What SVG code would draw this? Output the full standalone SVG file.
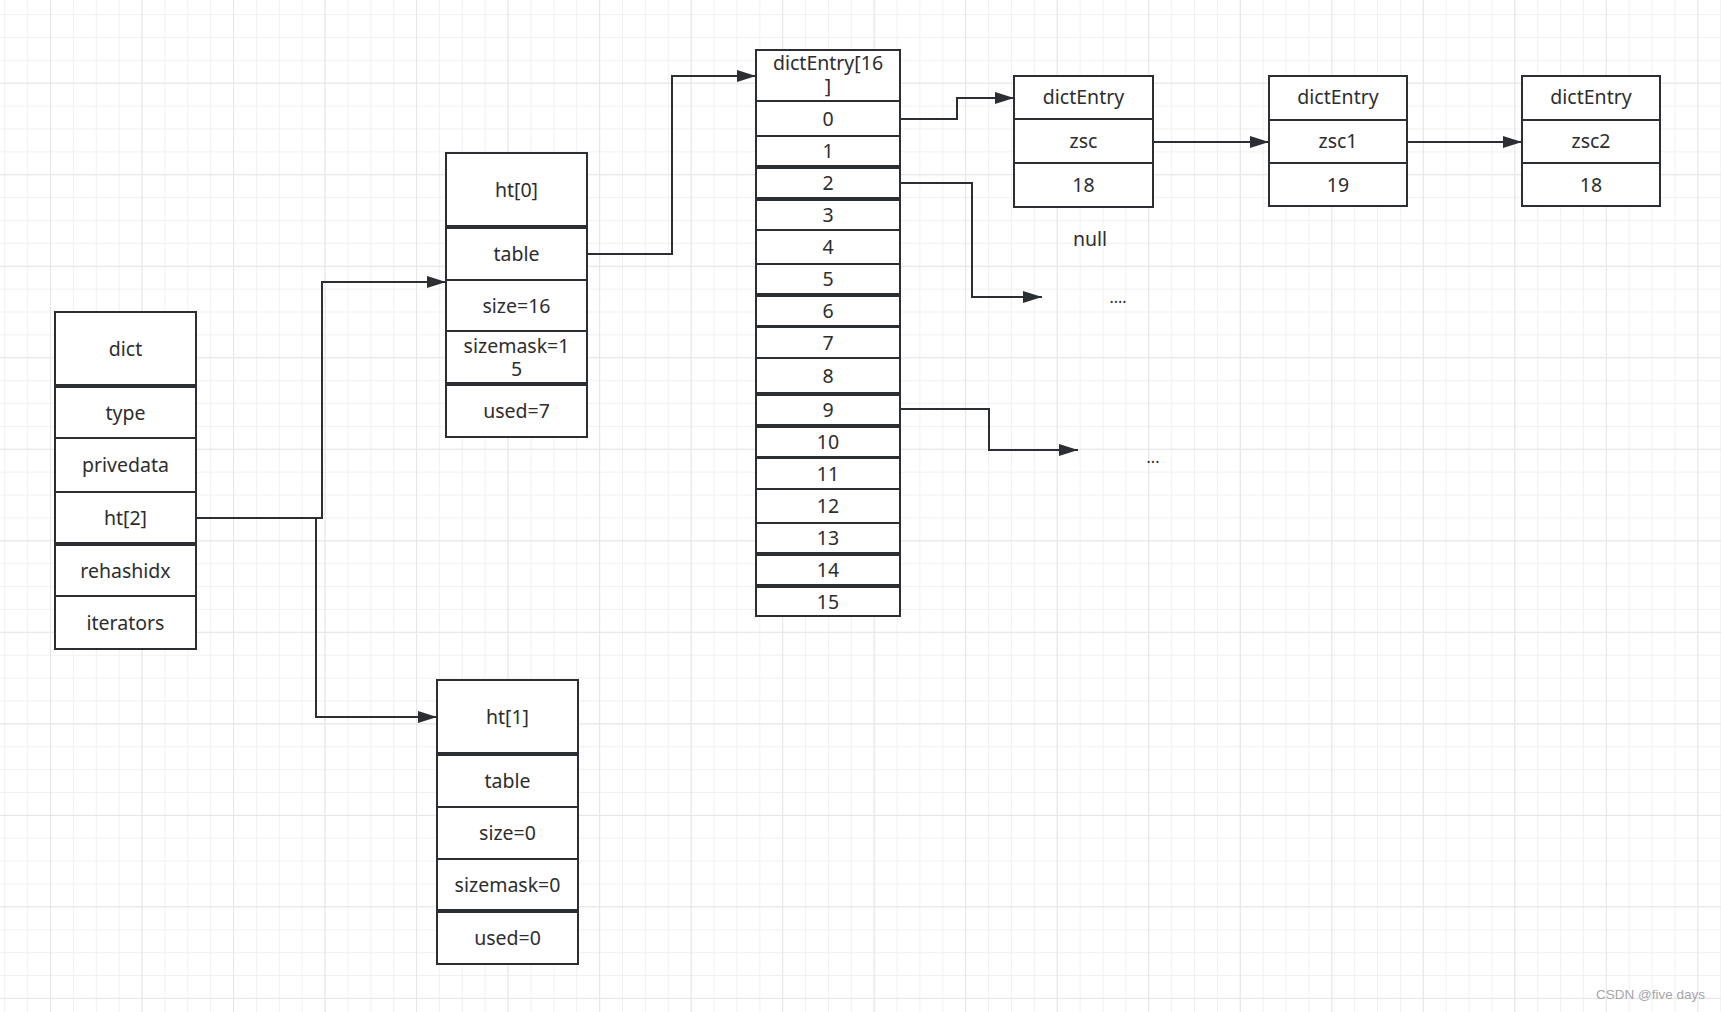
<svg xmlns="http://www.w3.org/2000/svg" width="1721" height="1012" viewBox="0 0 1721 1012">
<defs>
<pattern id="gMinor" patternUnits="userSpaceOnUse" x="50" y="82.7" width="22.88" height="22.88">
<path d="M22.88 0H0V22.88" fill="none" stroke="#f1f1f1" stroke-width="2"/>
</pattern>
<pattern id="gMajor" patternUnits="userSpaceOnUse" x="50" y="82.7" width="91.52" height="91.52">
<path d="M91.52 0H0V91.52" fill="none" stroke="#e6e6e6" stroke-width="2"/>
</pattern>
<marker id="arr" markerUnits="userSpaceOnUse" markerWidth="20" markerHeight="12" refX="19" refY="6" orient="auto">
<path d="M0,0 L19,6 L0,12 Z" fill="#2b2f33"/>
</marker>
<style>
.c{fill:#fff;stroke:#2b2f33;stroke-width:2}
.t{font-family:"Noto Sans","Open Sans","Liberation Sans",sans-serif;font-size:19.5px;fill:#2d2d2d;text-anchor:middle}
.l{fill:none;stroke:#2b2f33;stroke-width:2;marker-end:url(#arr)}
</style>
</defs>
<rect width="1721" height="1012" fill="#fff"/>
<rect width="1721" height="1012" fill="url(#gMinor)"/>
<rect width="1721" height="1012" fill="url(#gMajor)"/>

<g id="connectors">
<path class="l" d="M196,518H322V282H446"/>
<path class="l" d="M196,518H316V717H437"/>
<path class="l" d="M587,254H672V76H756"/>
<path class="l" d="M900,119H957V98H1014"/>
<path class="l" d="M900,183H972V297H1042"/>
<path class="l" d="M900,409H989V450H1078"/>
<path class="l" d="M1153,142H1269"/>
<path class="l" d="M1407,142H1522"/>
</g>

<g id="dict">
<rect class="c" x="55" y="312" width="141" height="73"/>
<rect class="c" x="55" y="387" width="141" height="51"/>
<rect class="c" x="55" y="438" width="141" height="54"/>
<rect class="c" x="55" y="492" width="141" height="51"/>
<rect class="c" x="55" y="545" width="141" height="51"/>
<rect class="c" x="55" y="596" width="141" height="53"/>
<text class="t" x="125.5" y="356">dict</text>
<text class="t" x="125.5" y="420">type</text>
<text class="t" x="125.5" y="472">privedata</text>
<text class="t" x="125.5" y="525">ht[2]</text>
<text class="t" x="125.5" y="578">rehashidx</text>
<text class="t" x="125.5" y="630">iterators</text>
</g>

<g id="ht0">
<rect class="c" x="446" y="153" width="141" height="73"/>
<rect class="c" x="446" y="228" width="141" height="52"/>
<rect class="c" x="446" y="280" width="141" height="51"/>
<rect class="c" x="446" y="331" width="141" height="52"/>
<rect class="c" x="446" y="385" width="141" height="52"/>
<text class="t" x="516.5" y="197">ht[0]</text>
<text class="t" x="516.5" y="261">table</text>
<text class="t" x="516.5" y="313">size=16</text>
<text class="t" x="516.5" y="353">sizemask=1<tspan x="516.5" dy="23">5</tspan></text>
<text class="t" x="516.5" y="418">used=7</text>
</g>

<g id="ht1">
<rect class="c" x="437" y="680" width="141" height="73"/>
<rect class="c" x="437" y="755" width="141" height="52"/>
<rect class="c" x="437" y="807" width="141" height="52"/>
<rect class="c" x="437" y="859" width="141" height="51"/>
<rect class="c" x="437" y="912" width="141" height="52"/>
<text class="t" x="507.5" y="724">ht[1]</text>
<text class="t" x="507.5" y="788">table</text>
<text class="t" x="507.5" y="840">size=0</text>
<text class="t" x="507.5" y="892">sizemask=0</text>
<text class="t" x="507.5" y="945">used=0</text>
</g>

<g id="array">
<rect class="c" x="756" y="50" width="144" height="51"/>
<rect class="c" x="756" y="101" width="144" height="35"/>
<rect class="c" x="756" y="136" width="144" height="30"/>
<rect class="c" x="756" y="168" width="144" height="30"/>
<rect class="c" x="756" y="200" width="144" height="30"/>
<rect class="c" x="756" y="230" width="144" height="34"/>
<rect class="c" x="756" y="264" width="144" height="30"/>
<rect class="c" x="756" y="296" width="144" height="30"/>
<rect class="c" x="756" y="327" width="144" height="31"/>
<rect class="c" x="756" y="358" width="144" height="35"/>
<rect class="c" x="756" y="395" width="144" height="30"/>
<rect class="c" x="756" y="427" width="144" height="30"/>
<rect class="c" x="756" y="458" width="144" height="31"/>
<rect class="c" x="756" y="489" width="144" height="34"/>
<rect class="c" x="756" y="523" width="144" height="30"/>
<rect class="c" x="756" y="555" width="144" height="30"/>
<rect class="c" x="756" y="587" width="144" height="29"/>
<text class="t" x="828" y="70">dictEntry[16<tspan x="828" dy="23">]</tspan></text>
<text class="t" x="828" y="126">0</text>
<text class="t" x="828" y="158">1</text>
<text class="t" x="828" y="190">2</text>
<text class="t" x="828" y="222">3</text>
<text class="t" x="828" y="254">4</text>
<text class="t" x="828" y="286">5</text>
<text class="t" x="828" y="318">6</text>
<text class="t" x="828" y="350">7</text>
<text class="t" x="828" y="383">8</text>
<text class="t" x="828" y="417">9</text>
<text class="t" x="828" y="449">10</text>
<text class="t" x="828" y="481">11</text>
<text class="t" x="828" y="513">12</text>
<text class="t" x="828" y="545">13</text>
<text class="t" x="828" y="577">14</text>
<text class="t" x="828" y="609">15</text>
</g>

<g id="entry1">
<rect class="c" x="1014" y="76" width="139" height="43"/>
<rect class="c" x="1014" y="119" width="139" height="44"/>
<rect class="c" x="1014" y="163" width="139" height="44"/>
<text class="t" x="1083.5" y="104">dictEntry</text>
<text class="t" x="1083.5" y="148">zsc</text>
<text class="t" x="1083.5" y="192">18</text>
</g>

<g id="entry2">
<rect class="c" x="1269" y="76" width="138" height="44"/>
<rect class="c" x="1269" y="120" width="138" height="43"/>
<rect class="c" x="1269" y="163" width="138" height="43"/>
<text class="t" x="1338" y="104">dictEntry</text>
<text class="t" x="1338" y="148">zsc1</text>
<text class="t" x="1338" y="192">19</text>
</g>

<g id="entry3">
<rect class="c" x="1522" y="76" width="138" height="44"/>
<rect class="c" x="1522" y="120" width="138" height="43"/>
<rect class="c" x="1522" y="163" width="138" height="43"/>
<text class="t" x="1591" y="104">dictEntry</text>
<text class="t" x="1591" y="148">zsc2</text>
<text class="t" x="1591" y="192">18</text>
</g>

<g id="labels">
<text class="t" x="1090" y="246">null</text>
<text class="t" x="1118" y="303" style="font-size:16px">....</text>
<text class="t" x="1153" y="463" style="font-size:16px">...</text>
</g>

<text x="1705" y="999" font-family="Liberation Sans, Arial, sans-serif" font-size="13.5" fill="#a6a6a6" text-anchor="end">CSDN @five days</text>
</svg>
